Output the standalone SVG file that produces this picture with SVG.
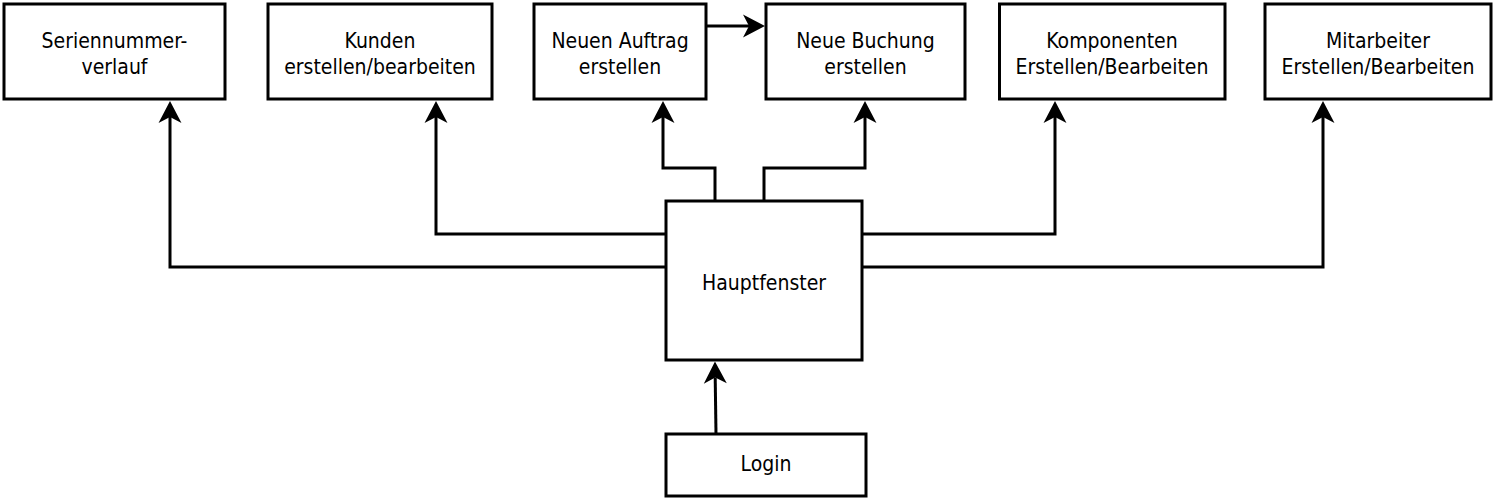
<svg xmlns="http://www.w3.org/2000/svg" width="1500" height="499" viewBox="0 0 1500 499">
  <style>
    .box { fill: #ffffff; stroke: #000000; stroke-width: 3; }
    .lbl { font-family: "DejaVu Sans Condensed", "DejaVu Sans", sans-serif; font-stretch: condensed; font-size: 21px; fill: #000000; text-anchor: middle; }
    .edge { fill: none; stroke: #000000; stroke-width: 3; marker-end: url(#arrow); }
  </style>
  <defs>
    <marker id="arrow" markerUnits="userSpaceOnUse" markerWidth="30" markerHeight="30" refX="0" refY="0" viewBox="-10 -15 30 30" orient="auto" overflow="visible">
      <path d="M16,0 L-6,-11.5 L0,0 L-6,11.5 Z" fill="#000000" stroke="none"/>
    </marker>
  </defs>
  <rect width="1500" height="499" fill="#ffffff"/>

  <g id="connectors">
    <path class="edge" d="M666,267 H170 V117"/>
    <path class="edge" d="M666,234 H436 V117"/>
    <path class="edge" d="M715,201 V168 H663 V117"/>
    <path class="edge" d="M764,201 V168 H865 V117"/>
    <path class="edge" d="M862,234 H1055 V117"/>
    <path class="edge" d="M862,267 H1323 V117"/>
    <path class="edge" d="M716,434 L715.2,377.5"/>
    <path class="edge" d="M706,26 H749"/>
  </g>

  <g id="node-seriennummer">
    <rect class="box" x="4" y="4" width="221" height="95"/>
    <text class="lbl" x="114.5" y="47.5">Seriennummer-</text>
    <text class="lbl" x="114.5" y="74">verlauf</text>
  </g>
  <g id="node-kunden">
    <rect class="box" x="268" y="4" width="224" height="95"/>
    <text class="lbl" x="380" y="47.5">Kunden</text>
    <text class="lbl" x="380" y="74">erstellen/bearbeiten</text>
  </g>
  <g id="node-auftrag">
    <rect class="box" x="534" y="4" width="172" height="95"/>
    <text class="lbl" x="620" y="47.5">Neuen Auftrag</text>
    <text class="lbl" x="620" y="74">erstellen</text>
  </g>
  <g id="node-buchung">
    <rect class="box" x="766" y="4" width="199" height="95"/>
    <text class="lbl" x="865.5" y="47.5">Neue Buchung</text>
    <text class="lbl" x="865.5" y="74">erstellen</text>
  </g>
  <g id="node-komponenten">
    <rect class="box" x="999.5" y="4" width="225.5" height="95"/>
    <text class="lbl" x="1112" y="47.5">Komponenten</text>
    <text class="lbl" x="1112" y="74">Erstellen/Bearbeiten</text>
  </g>
  <g id="node-mitarbeiter">
    <rect class="box" x="1265" y="4" width="226" height="95"/>
    <text class="lbl" x="1378" y="47.5">Mitarbeiter</text>
    <text class="lbl" x="1378" y="74">Erstellen/Bearbeiten</text>
  </g>
  <g id="node-hauptfenster">
    <rect class="box" x="666" y="201" width="196" height="159"/>
    <text class="lbl" x="764" y="290">Hauptfenster</text>
  </g>
  <g id="node-login">
    <rect class="box" x="666" y="434" width="200" height="62"/>
    <text class="lbl" x="766" y="471">Login</text>
  </g>
</svg>
